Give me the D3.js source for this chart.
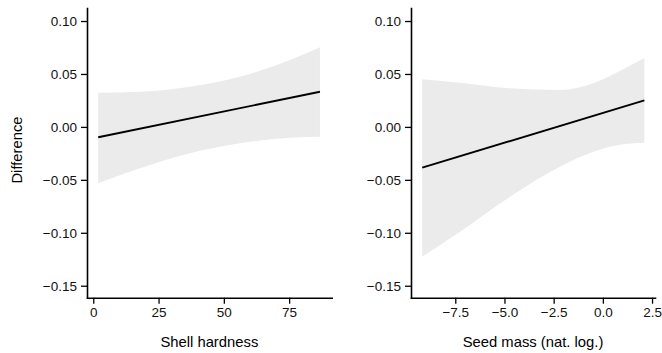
<!DOCTYPE html>
<html>
<head>
<meta charset="utf-8">
<script src="https://cdn.jsdelivr.net/npm/d3@7"></script>
<style>
  html, body { margin: 0; padding: 0; background: #fff; }
  svg text { font-family: "Liberation Sans", Arial, sans-serif; }
</style>
</head>
<body>
<svg id="chart" width="662" height="353"></svg>
<script>
// y ticks shared by both panels
const yTicks = [-0.15, -0.10, -0.05, 0.00, 0.05, 0.10];

// panel 1: shell hardness
const hardTicks = [0, 25, 50, 75];
const hardX = [1.9, 17.9, 37.0, 56.2, 75.3, 86.8];
const hardUpper = [0.0323, 0.0332, 0.0380, 0.0474, 0.0632, 0.0752];
const hardLower = [-0.0533, -0.0391, -0.0249, -0.0155, -0.0102, -0.0093];
const hardFitX = [1.9, 86.8];
const hardFit = [-0.0098, 0.0332];

// panel 2: seed mass (nat. log.)
const massTicks = [-7.5, -5.0, -2.5, 0.0, 2.5];
const massX = [-9.18, -7.26, -4.72, -2.18, -0.48, 0.79, 2.11];
const massUpper = [0.0450, 0.0417, 0.0365, 0.0349, 0.0412, 0.0521, 0.0648];
const massLower = [-0.1226, -0.0990, -0.0659, -0.0376, -0.0234, -0.0171, -0.0149];
const massFitX = [-9.18, 2.11];
const massFit = [-0.0385, 0.0251];

const BAND = '#ebebeb';
const INK = '#000';

const svg = d3.select('#chart');

const y = d3.scaleLinear().domain([-0.1613, 0.1123]).range([297.7, 8]);

const panels = [
  {
    title: 'Shell hardness',
    x: d3.scaleLinear().domain([-2.4, 91.3]).range([87, 331.7]),
    ticks: hardTicks, fmt: d3.format('d'),
    bx: hardX, up: hardUpper, lo: hardLower, fx: hardFitX, fy: hardFit,
  },
  {
    title: 'Seed mass (nat. log.)',
    x: d3.scaleLinear().domain([-9.75, 2.65]).range([411, 655]),
    ticks: massTicks, fmt: d3.format('.1f'),
    bx: massX, up: massUpper, lo: massLower, fx: massFitX, fy: massFit,
  },
];

const minus = s => s.replace('-', '\u2212');

panels.forEach((p) => {
  const g = svg.append('g');

  // confidence band
  const area = d3.area()
    .x(d => p.x(d.x))
    .y0(d => y(d.lo))
    .y1(d => y(d.up))
    .curve(d3.curveMonotoneX);
  g.append('path')
    .datum(p.bx.map((v, i) => ({ x: v, up: p.up[i], lo: p.lo[i] })))
    .attr('d', area)
    .attr('fill', BAND);

  // fitted line
  const line = d3.line().x(d => p.x(d[0])).y(d => y(d[1]));
  g.append('path')
    .datum(p.fx.map((v, i) => [v, p.fy[i]]))
    .attr('d', line)
    .attr('fill', 'none')
    .attr('stroke', INK)
    .attr('stroke-width', 1.9);

  // axes
  const xAxis = d3.axisBottom(p.x)
    .tickValues(p.ticks)
    .tickFormat(d => minus(p.fmt(d)))
    .tickSize(6)
    .tickSizeOuter(0)
    .tickPadding(4);
  const gx = g.append('g')
    .attr('transform', `translate(0,${y.range()[0]})`)
    .call(xAxis);

  const yAxis = d3.axisLeft(y)
    .tickValues(yTicks)
    .tickFormat(d => minus(d3.format('.2f')(d)))
    .tickSize(6)
    .tickSizeOuter(0)
    .tickPadding(4);
  const gy = g.append('g')
    .attr('transform', `translate(${p.x.range()[0]},0)`)
    .call(yAxis);

  [gx, gy].forEach(a => {
    a.select('.domain').attr('stroke', INK).attr('stroke-width', 1.6).attr('stroke-linecap', 'square');
    a.selectAll('.tick line').attr('stroke', INK).attr('stroke-width', 1.3);
    a.selectAll('.tick text')
      .attr('fill', '#111')
      .style('font-size', '13.5px')
      .style('font-family', '"Liberation Sans", Arial, sans-serif');
  });

  // x title
  const [r0, r1] = p.x.range();
  g.append('text')
    .attr('x', (r0 + r1) / 2)
    .attr('y', 347)
    .attr('text-anchor', 'middle')
    .style('font-size', '14.8px')
    .attr('fill', INK)
    .text(p.title);
});

// y title
svg.append('text')
  .attr('transform', 'translate(22,150) rotate(-90)')
  .attr('text-anchor', 'middle')
  .style('font-size', '14.8px')
  .attr('fill', INK)
  .text('Difference');
</script>
</body>
</html>
